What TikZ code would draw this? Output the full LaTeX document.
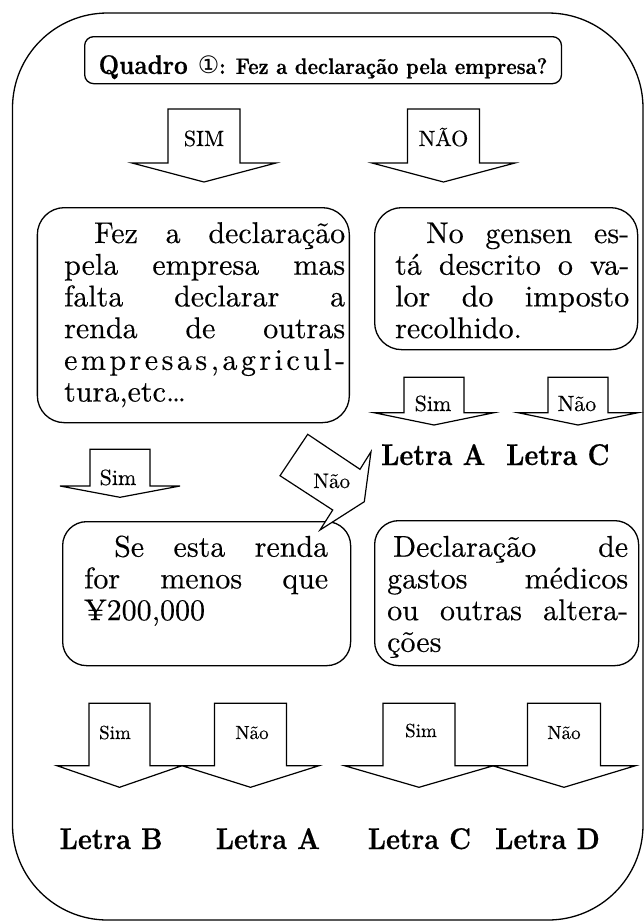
\documentclass[tikz,border=0pt]{standalone}
\usepackage{fontspec}
\setmainfont{lmroman10-regular.otf}[FakeBold=0.35]
\newfontfamily\bfam{lmroman10-bold.otf}[FakeStretch=0.88, FakeBold=0.4]
\newfontfamily\dejavu{DejaVu Sans}
\hbadness=10000 \hfuzz=20pt
\newlength\blkw
\newcommand\myJ[1]{\hbox to\blkw{#1}}
\newcommand\myL[1]{\hbox to\blkw{#1\hfil}}
\newcommand\myInd[1]{\hskip#1pt\relax}
\newcommand\blockarrow[6]{%
  \draw[barrow] ({#1-#2},#4) -- ({#1+#2},#4) -- ({#1+#2},#5) -- ({#1+#3},#5)
    -- (#1,#6) -- ({#1-#3},#5) -- ({#1-#2},#5) -- cycle;}
\tikzset{
  frame/.style={draw, line width=1.3pt, rounded corners=95pt},
  box/.style={draw, line width=1.3pt, rounded corners=27pt, inner sep=0pt, anchor=north west},
  titlebox/.style={draw, line width=1.3pt, rounded corners=9pt, inner xsep=14pt, inner ysep=0pt,
    text height=37.3pt, text depth=9.7pt, anchor=north west, font=\bfam},
  barrow/.style={draw, line width=1.2pt, fill=white, line join=miter},
  txt/.style={inner sep=0pt, anchor=base west, font=\fontsize{30}{31.7}\selectfont},
  lab/.style={inner sep=0pt, anchor=base, font=\fontsize{22}{26}\selectfont},
  labbig/.style={lab, font=\fontsize{22}{26}\selectfont},
  labsmall/.style={lab, font=\fontsize{19}{22}\selectfont},
  letra/.style={inner sep=0pt, anchor=base west, font=\bfam\fontsize{30}{34}\selectfont},
}
\begin{document}
\begin{tikzpicture}[x=1pt,y=-1pt]
\useasboundingbox (0,0) rectangle (644,922);
% outer frame
\draw[frame] (12.5,13) rectangle (643,920);
% title
\node[titlebox] (tb) at (84,36) {{\fontsize{27}{30}\selectfont Quadro}\hspace{10pt}{\dejavu\fontsize{24}{26}\selectfont ①}{\fontsize{22.5}{25}\selectfont: Fez a declaração pela empresa?}};
% top arrows
\blockarrow{204}{36}{72}{109}{163}{182}
\node[labbig] (a1) at (204,146) {SIM};
\blockarrow{443.5}{36}{71.5}{109}{163}{182}
\node[labbig] (a2) at (443.5,146) {NÃO};
% boxes
\node[box, minimum width=312pt, minimum height=215pt] (lb) at (36.7,207) {};
\node[box, minimum width=263pt, minimum height=142pt] (rb) at (374,207) {};
\node[box, minimum width=288pt, minimum height=144pt, rounded corners=24pt] (sb) at (62,521) {};
\node[box, minimum width=264pt, minimum height=145pt, rounded corners=24pt] (db) at (374,520) {};
% box texts
\node[txt] (lbt) at (64,243) {\setlength\blkw{281pt}\vtop{%
  \myJ{\myInd{30}Fez a declaração}
  \myJ{pela empresa mas}
  \myJ{falta declarar a}
  \myJ{renda de outras}
  \myJ{e\hfil m\hfil p\hfil r\hfil e\hfil s\hfil a\hfil s\hfil ,\hfil a\hfil g\hfil r\hfil i\hfil c\hfil u\hfil l\hfil -}
  \myL{tura,etc…}}};
\node[txt] (rbt) at (395,243) {\setlength\blkw{234pt}\vtop{%
  \myJ{\myInd{31}No gensen es-}
  \myJ{tá descrito o va-}
  \myJ{lor do imposto}
  \myL{recolhido.}}};
\node[txt] (sbt) at (84,556.7) {\setlength\blkw{244pt}\vtop{%
  \myJ{\myInd{30}Se esta renda}
  \myJ{for menos que}
  \myL{¥200,000}}};
\node[txt] (dbt) at (387,556.7) {\setlength\blkw{241pt}\vtop{%
  \myJ{\myInd{6}Declaração de}
  \myJ{gastos médicos}
  \myJ{ou outras altera-}
  \myL{ções}}};
% small arrows under right box
\blockarrow{434}{30}{60}{377.3}{412.7}{425}
\node[lab] (a3) at (433,411) {Sim};
\blockarrow{578}{30}{60}{377.3}{412.7}{425}
\node[lab] (a4) at (577,411) {Não};
\node[letra] (la1) at (381,465) {Letra A};
\node[letra] (lc1) at (506,465) {Letra C};
% mid-left arrow
\blockarrow{120}{30}{60}{449.3}{486}{497.3}
\node[lab] (a5) at (118,485) {Sim};
% diagonal arrow
\draw[barrow] (307.7,434.3) -- (360,469.3) -- (371,451.7) -- (364.3,501.7)
  -- (320,530) -- (332.7,510) -- (280,475.7) -- cycle;
\node[lab, font=\fontsize{21}{24}\selectfont] (a6) at (331.7,488) {Não};
% bottom arrows
\blockarrow{119.5}{30.5}{62.5}{703.3}{765.7}{787.3}
\node[labsmall] (a7) at (115,739) {Sim};
\blockarrow{250.5}{36}{68.5}{703.3}{765.7}{787.3}
\node[labsmall] (a8) at (252,739) {Não};
\blockarrow{419}{36}{74.5}{703.3}{765.7}{787.3}
\node[labsmall] (a9) at (421,737) {Sim};
\blockarrow{564}{36.5}{71.5}{703.3}{765.7}{787.3}
\node[labsmall] (a10) at (564,739) {Não};
% bottom letters
\node[letra] (lb2) at (59.5,849) {Letra B};
\node[letra] (la2) at (215.6,849) {Letra A};
\node[letra] (lc2) at (367.6,849) {Letra C};
\node[letra] (ld2) at (495,849) {Letra D};
\end{tikzpicture}
\end{document}
